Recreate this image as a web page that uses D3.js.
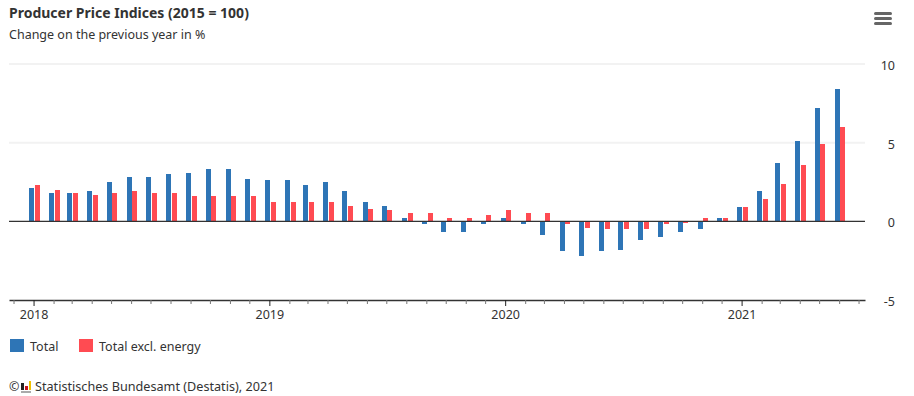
<!DOCTYPE html>
<html>
<head>
<meta charset="utf-8">
<script src="https://cdn.jsdelivr.net/npm/d3@7"></script>
<style>
  html, body { margin: 0; padding: 0; background: #fff; }
  text { font-family: "Noto Sans", sans-serif; fill: #333; }
</style>
</head>
<body>
<div id="chart"></div>
<script>
// monthly, Jan 2018 to Jun 2021
var startYear = 2018;
var total = [2.1, 1.8, 1.8, 1.9, 2.5, 2.8, 2.8, 3.0, 3.1, 3.3, 3.3, 2.7,
             2.6, 2.6, 2.3, 2.5, 1.9, 1.2, 1.0, 0.2, -0.2, -0.7, -0.7, -0.2,
             0.2, -0.2, -0.9, -1.9, -2.2, -1.9, -1.8, -1.2, -1.0, -0.7, -0.5, 0.2,
             0.9, 1.9, 3.7, 5.1, 7.2, 8.4];
var exclEnergy = [2.3, 2.0, 1.8, 1.7, 1.8, 1.9, 1.8, 1.8, 1.6, 1.6, 1.6, 1.6,
                  1.2, 1.2, 1.2, 1.2, 1.0, 0.8, 0.7, 0.5, 0.5, 0.2, 0.2, 0.4,
                  0.7, 0.5, 0.5, -0.2, -0.4, -0.5, -0.5, -0.5, -0.2, -0.1, 0.2, 0.2,
                  0.9, 1.4, 2.4, 3.6, 4.9, 6.0];
var yTicks = [-5, 0, 5, 10];
var seriesNames = ["Total", "Total excl. energy"];
var seriesColors = ["#2e75b6", "#ff4b52"];

var outerWidth = 914, outerHeight = 396;

var data = total.map(function(d, i) {
    return { date: new Date(Date.UTC(startYear, i, 1)), total: d, excl: exclEnergy[i] };
});

var x = d3.scaleUtc()
    .domain([new Date(Date.UTC(2017, 10, 24)), new Date(Date.UTC(2021, 6, 11))])
    .range([9, 865]);

var y = d3.scaleLinear()
    .domain([-5, 10])
    .range([300, 64]);

var svg = d3.select("#chart").append("svg")
    .attr("width", outerWidth)
    .attr("height", outerHeight)
    .style("display", "block");

// title block
svg.append("text")
    .attr("x", 9).attr("y", 18)
    .style("font-size", "14px")
    .style("font-weight", "700")
    .text("Producer Price Indices (2015 = 100)");

svg.append("text")
    .attr("x", 9).attr("y", 39)
    .style("font-size", "12.5px")
    .text("Change on the previous year in %");

// menu button
svg.append("g").selectAll("line")
    .data([13.5, 18.5, 23.5])
    .enter().append("line")
    .attr("x1", 875.5).attr("x2", 890.5)
    .attr("y1", function(d) { return d; })
    .attr("y2", function(d) { return d; })
    .style("stroke", "#666")
    .style("stroke-width", 3)
    .style("stroke-linecap", "round");

// grid
svg.append("g").selectAll("line")
    .data(yTicks.filter(function(d) { return d > 0; }))
    .enter().append("line")
    .attr("x1", 9).attr("x2", 865)
    .attr("y1", function(d) { return y(d); })
    .attr("y2", function(d) { return y(d); })
    .style("stroke", "#f2f2f2")
    .style("stroke-width", 2);

// y axis labels sit right of the plot
var yAxis = d3.axisRight(y)
    .tickValues(yTicks)
    .tickSize(0)
    .tickPadding(0)
    .tickFormat(function(d) { return d; });

var yG = svg.append("g")
    .attr("transform", "translate(895,1)")
    .call(yAxis);
yG.select(".domain").remove();
yG.selectAll("text")
    .attr("text-anchor", "end")
    .attr("dy", ".36em")
    .style("font-size", "12.5px")
    .style("font-family", "\"Noto Sans\", sans-serif");

// x axis, month ticks with year labels on the januaries
var xAxis = d3.axisBottom(x)
    .ticks(d3.utcMonth.every(1))
    .tickSize(4)
    .tickSizeOuter(0)
    .tickFormat(function(d) { return d.getUTCMonth() == 0 ? d.getUTCFullYear() : ""; });

var xG = svg.append("g")
    .attr("transform", "translate(0,300)")
    .call(xAxis);
xG.select(".domain").style("stroke", "#333").style("stroke-width", 1.5);
xG.selectAll(".tick line")
    .style("stroke", function(d) { return d.getUTCMonth() == 0 ? "#222" : "#777"; })
    .attr("y2", function(d) { return d.getUTCMonth() == 0 ? 6 : 4; });
xG.selectAll(".tick text")
    .attr("y", 10)
    .style("font-size", "12.5px")
    .style("font-family", "\"Noto Sans\", sans-serif");

// bars, snapped to whole pixels
function barTop(v) { return Math.round(y(Math.max(0, v))); }
function barHeight(v) { return Math.round(y(Math.min(0, v))) - barTop(v); }

svg.append("g").selectAll("rect")
    .data(data)
    .enter().append("rect")
    .attr("x", function(d) { return Math.round(x(d.date) - 4.4); })
    .attr("y", function(d) { return barTop(d.total); })
    .attr("width", 5)
    .attr("height", function(d) { return barHeight(d.total); })
    .style("fill", seriesColors[0]);

svg.append("g").selectAll("rect")
    .data(data)
    .enter().append("rect")
    .attr("x", function(d) { return Math.round(x(d.date) + 1.2); })
    .attr("y", function(d) { return barTop(d.excl); })
    .attr("width", 5)
    .attr("height", function(d) { return barHeight(d.excl); })
    .style("fill", seriesColors[1]);

// zero line goes over the bars
svg.append("line")
    .attr("x1", 9).attr("x2", 865)
    .attr("y1", y(0)).attr("y2", y(0))
    .style("stroke", "#333")
    .style("stroke-width", 1.2);

// legend
var legendX = [10, 79];
var legend = svg.append("g").selectAll("g")
    .data(seriesNames)
    .enter().append("g")
    .attr("transform", function(d, i) { return "translate(" + legendX[i] + ",339)"; });

legend.append("rect")
    .attr("width", 14)
    .attr("height", 13)
    .style("fill", function(d, i) { return seriesColors[i]; });

legend.append("text")
    .attr("x", 20)
    .attr("y", 12)
    .style("font-size", "12.5px")
    .text(function(d) { return d; });

// source line with the small logo
svg.append("text")
    .attr("x", 9).attr("y", 391)
    .style("font-size", "12.5px")
    .text("\u00a9");

var logo = svg.append("g").attr("transform", "translate(21,381)");
logo.append("rect").attr("x", 0).attr("y", 2).attr("width", 3).attr("height", 7).style("fill", "#222");
logo.append("rect").attr("x", 4).attr("y", 5).attr("width", 3).attr("height", 4).style("fill", "#c8141e");
logo.append("rect").attr("x", 8).attr("y", 0).attr("width", 2).attr("height", 9).style("fill", "#f0c000");
logo.append("rect").attr("x", 0).attr("y", 10).attr("width", 10).attr("height", 2).style("fill", "#aaa");

svg.append("text")
    .attr("x", 35).attr("y", 391)
    .style("font-size", "12.65px")
    .text("Statistisches Bundesamt (Destatis), 2021");
</script>
</body>
</html>
